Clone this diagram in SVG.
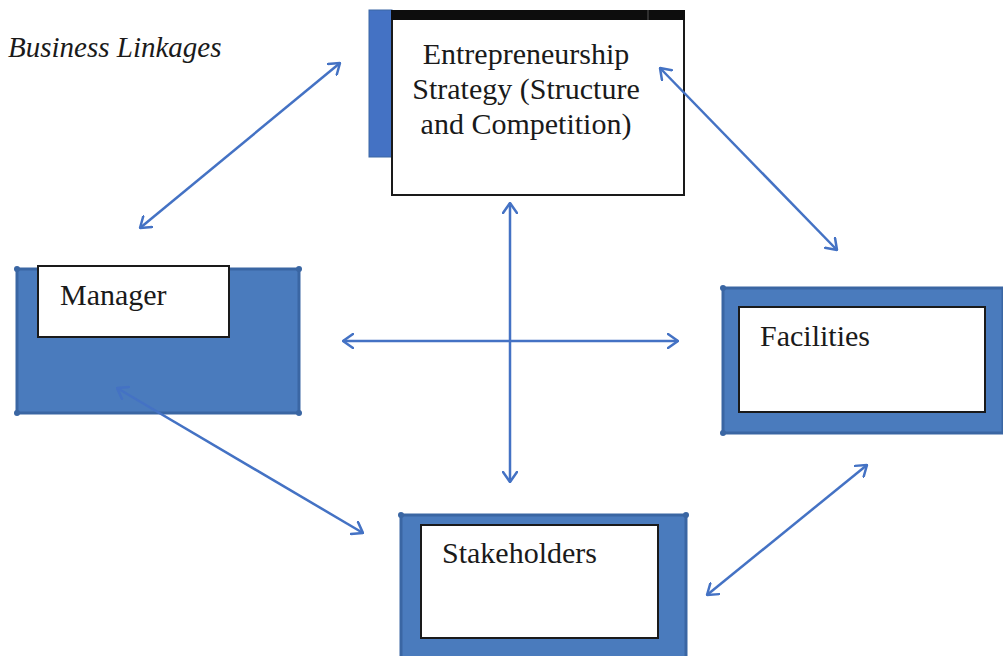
<svg xmlns="http://www.w3.org/2000/svg" width="1003" height="656" viewBox="0 0 1003 656">
<style>
  .lbl { font-family: "Liberation Serif", "Times New Roman", serif; font-size: 30px; fill: #1a1a1a; }
  .title { font-family: "Liberation Serif", "Times New Roman", serif; font-size: 29px; font-style: italic; fill: #1a1a1a; }
  .blue { fill: #4A7BBD; stroke: #3A66A3; stroke-width: 3; }
  .white { fill: #ffffff; stroke: #1a1a1a; stroke-width: 2; }
  .dot { fill: #3A66A3; }
  .conn { stroke: #4472C4; stroke-width: 2.5; fill: none; marker-start: url(#ah); marker-end: url(#ah); }
</style>
<defs>
  <marker id="ah" viewBox="0 0 12 16" refX="11" refY="8" markerWidth="12" markerHeight="16" markerUnits="userSpaceOnUse" orient="auto-start-reverse">
    <path d="M1,1 L11,8 L1,15" fill="none" stroke="#4472C4" stroke-width="2.5" stroke-linecap="round" stroke-linejoin="round"/>
  </marker>
</defs>
<rect width="1003" height="656" fill="#ffffff"/>

<text class="title" x="8" y="57">Business Linkages</text>

<g id="node-strategy">
  <rect x="369" y="10" width="23" height="147" fill="#4472C4" stroke="#3A66A3" stroke-width="1"/>
  <rect class="white" x="392" y="12" width="292" height="183"/>
  <rect x="391" y="10" width="294" height="10" fill="#0d0d0d"/>
  <line x1="648" y1="10" x2="648" y2="20" stroke="#555" stroke-width="1"/>
  <text class="lbl" x="526" y="64" text-anchor="middle">Entrepreneurship</text>
  <text class="lbl" x="526" y="99" text-anchor="middle">Strategy (Structure</text>
  <text class="lbl" x="526" y="134" text-anchor="middle">and Competition)</text>
</g>

<g id="node-manager">
  <rect class="blue" x="17" y="269" width="282" height="144"/>
  <circle class="dot" cx="17" cy="269" r="3"/>
  <circle class="dot" cx="299" cy="269" r="3"/>
  <circle class="dot" cx="17" cy="413" r="3"/>
  <circle class="dot" cx="299" cy="413" r="3"/>
  <rect class="white" x="38" y="266" width="191" height="71"/>
  <text class="lbl" x="60" y="305">Manager</text>
</g>

<g id="node-facilities">
  <rect class="blue" x="723" y="288" width="280" height="145"/>
  <circle class="dot" cx="723" cy="288" r="3"/>
  <circle class="dot" cx="723" cy="433" r="3"/>
  <rect class="white" x="739" y="307" width="246" height="105"/>
  <text class="lbl" x="760" y="346">Facilities</text>
</g>

<g id="node-stakeholders">
  <rect class="blue" x="401" y="515" width="285" height="150"/>
  <circle class="dot" cx="401" cy="515" r="3"/>
  <circle class="dot" cx="686" cy="515" r="3"/>
  <rect class="white" x="421" y="525" width="237" height="113"/>
  <text class="lbl" x="442" y="563">Stakeholders</text>
</g>

<g id="connectors">
  <line class="conn" x1="140" y1="228" x2="340" y2="63"/>
  <line class="conn" x1="660" y1="68" x2="837" y2="250"/>
  <line class="conn" x1="510" y1="203" x2="510" y2="482"/>
  <line class="conn" x1="343" y1="341" x2="678" y2="341"/>
  <line class="conn" x1="117" y1="388" x2="363" y2="533"/>
  <line class="conn" x1="707" y1="595" x2="867" y2="465"/>
</g>
</svg>
